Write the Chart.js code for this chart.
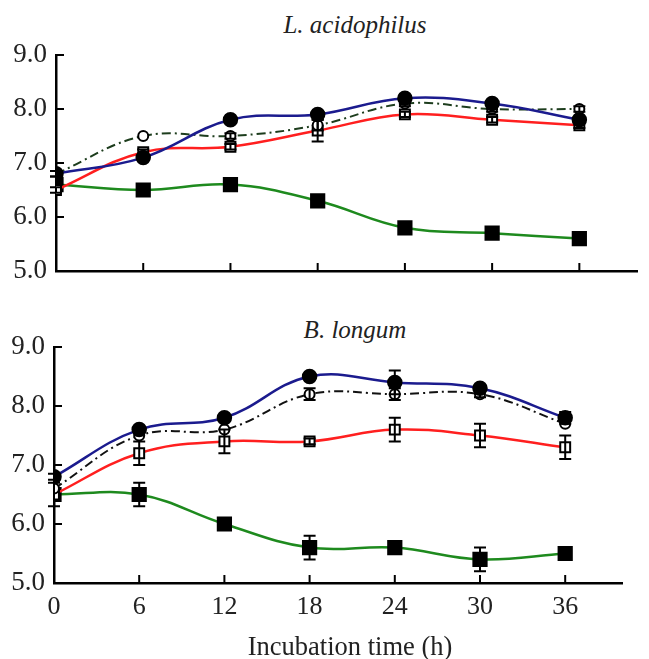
<!DOCTYPE html>
<html>
<head>
<meta charset="utf-8">
<script src="https://cdn.jsdelivr.net/npm/chart.js@4/dist/chart.umd.min.js"></script>
<style>
  body { margin: 0; background: #fff; }
  #wrap { position: relative; width: 649px; height: 659px; }
  canvas { position: absolute; left: 0; }
  .ttl { position: absolute; font-family: 'Liberation Serif', serif; font-style: italic;
         font-size: 25px; color: #222; width: 300px; text-align: center; line-height: 30px; }
  .xt { position: absolute; font-family: 'Liberation Serif', serif; font-size: 26.5px;
        color: #222; width: 300px; text-align: center; line-height: 30px; }
</style>
</head>
<body>
<div id="wrap">
  <div class="ttl" style="left:205px; top:10px;">L. acidophilus</div>
  <canvas id="top" width="649" height="300" style="top:0"></canvas>
  <div class="ttl" style="left:205px; top:315px;">B. longum</div>
  <canvas id="bottom" width="649" height="359" style="top:300px"></canvas>
  <div class="xt" style="left:200px; top:631px;">Incubation time (h)</div>
</div>
<script>
// incubation time (h) and pH axis ticks
const hours = [0, 6, 12, 18, 24, 30, 36];
const yTicks = [5, 6, 7, 8, 9];

// L. acidophilus
const laBlue  = [6.8, 7.1, 7.8, 7.9, 8.2, 8.1, 7.8];
const laBlack = [6.8, 7.5, 7.5, 7.7, 8.1, 8.0, 8.0];
const laRed   = [6.5, 7.2, 7.3, 7.6, 7.9, 7.8, 7.7];
const laGreen = [6.6, 6.5, 6.6, 6.3, 5.8, 5.7, 5.6];
const laBlueErr  = [0.05, 0.05, 0, 0.05, 0.05, 0.05, 0];
const laBlackErr = [0.05, 0, 0.05, 0.1, 0.05, 0.05, 0.05];
const laRedErr   = [0.05, 0.05, 0.05, 0.2, 0.05, 0.05, 0.05];
const laGreenErr = [0, 0, 0, 0, 0, 0, 0];

// B. longum
const blBlue  = [6.8, 7.6, 7.8, 8.5, 8.4, 8.3, 7.8];
const blBlack = [6.6, 7.5, 7.6, 8.2, 8.2, 8.2, 7.7];
const blRed   = [6.5, 7.2, 7.4, 7.4, 7.6, 7.5, 7.3];
const blGreen = [6.5, 6.5, 6.0, 5.6, 5.6, 5.4, 5.5];
const blBlueErr  = [0.05, 0.05, 0.05, 0.05, 0.2, 0.05, 0.1];
const blBlackErr = [0, 0, 0, 0.1, 0.1, 0.05, 0];
const blRedErr   = [0, 0.2, 0.2, 0.05, 0.2, 0.2, 0.2];
const blGreenErr = [0.2, 0.2, 0, 0.2, 0, 0.2, 0];

const FONT = "'Liberation Serif', 'Times New Roman', serif";

const xy = vals => hours.map((h, i) => ({ x: h, y: vals[i] }));

// error bars + inward tick marks, positions come from the chart scales
const extras = {
  id: 'extras',
  afterDatasetsDraw(chart) {
    const ctx = chart.ctx, xs = chart.scales.x, ys = chart.scales.y;
    ctx.save();
    ctx.strokeStyle = '#000';
    ctx.lineWidth = 2;
    chart.data.datasets.forEach(ds => {
      if (!ds.errors) return;
      ds.data.forEach((p, i) => {
        const e = ds.errors[i];
        if (!e) return;
        const px = xs.getPixelForValue(p.x);
        const y1 = ys.getPixelForValue(p.y + e), y2 = ys.getPixelForValue(p.y - e);
        ctx.beginPath();
        ctx.moveTo(px, y1); ctx.lineTo(px, y2);
        ctx.moveTo(px - 6, y1); ctx.lineTo(px + 6, y1);
        ctx.moveTo(px - 6, y2); ctx.lineTo(px + 6, y2);
        ctx.stroke();
      });
    });
    ctx.restore();
  },
  afterDraw(chart) {
    const ctx = chart.ctx, xs = chart.scales.x, ys = chart.scales.y;
    const a = chart.chartArea;
    ctx.save();
    ctx.strokeStyle = '#000';
    ctx.lineWidth = 2;
    ctx.beginPath();
    hours.forEach(h => {
      const px = xs.getPixelForValue(h);
      ctx.moveTo(px, a.bottom); ctx.lineTo(px, a.bottom - 8);
    });
    yTicks.forEach(v => {
      const py = ys.getPixelForValue(v);
      ctx.moveTo(a.left, py); ctx.lineTo(a.left + 8, py);
    });
    ctx.stroke();
    ctx.restore();
  }
};

function makePanel(id, blue, black, red, green, errs, opts) {
  return new Chart(document.getElementById(id), {
    type: 'line',
    data: {
      datasets: [
        {
          label: 'Filled circle', data: xy(blue), errors: errs[0],
          borderColor: '#1b1b8e', borderWidth: 2.5, tension: 0.4,
          pointStyle: 'circle', pointRadius: 6.5,
          pointBackgroundColor: '#000', pointBorderColor: '#000'
        },
        {
          label: 'Open circle', data: xy(black), errors: errs[1],
          borderColor: opts.dashColor, borderWidth: 2, tension: 0.4,
          borderDash: [9, 4, 2, 4],
          pointStyle: 'circle', pointRadius: 5, pointBorderWidth: 2,
          pointBackgroundColor: '#fff', pointBorderColor: '#000'
        },
        {
          label: 'Open square', data: xy(red), errors: errs[2],
          borderColor: '#ff1f1f', borderWidth: 2.5, tension: 0.4,
          pointStyle: 'rect', pointRadius: 7, pointBorderWidth: 2,
          pointBackgroundColor: '#fff', pointBorderColor: '#000'
        },
        {
          label: 'Filled square', data: xy(green), errors: errs[3],
          borderColor: '#1e8a1e', borderWidth: 2.5, tension: 0.4,
          pointStyle: 'rect', pointRadius: 9,
          pointBackgroundColor: '#000', pointBorderColor: '#000'
        }
      ]
    },
    options: {
      responsive: false,
      animation: false,
      layout: { padding: { top: opts.padTop, right: opts.padRight, left: 0, bottom: 0 } },
      plugins: { legend: { display: false }, tooltip: { enabled: false } },
      scales: {
        x: {
          type: 'linear', min: 0, max: 40,
          afterBuildTicks: s => { s.ticks = hours.map(v => ({ value: v })); },
          afterFit: s => { s.height = opts.xHeight; },
          grid: { display: false, drawTicks: false },
          border: { display: true, color: '#000', width: 2.5 },
          ticks: { display: opts.xLabels, padding: 9, color: '#222',
                   font: { family: FONT, size: 26 } }
        },
        y: {
          min: 5, max: 9,
          afterBuildTicks: s => { s.ticks = yTicks.map(v => ({ value: v })); },
          afterFit: s => { s.width = opts.yWidth; },
          grid: { display: false, drawTicks: false },
          border: { display: true, color: '#000', width: 2.5 },
          ticks: { padding: 9, color: '#222', font: { family: FONT, size: 27 },
                   callback: v => v.toFixed(1) }
        }
      }
    },
    plugins: [extras]
  });
}

makePanel('top', laBlue, laBlack, laRed, laGreen,
  [laBlueErr, laBlackErr, laRedErr, laGreenErr],
  { padTop: 55, padRight: 1, xHeight: 29, yWidth: 56, xLabels: false, dashColor: '#1d3d1d' });

makePanel('bottom', blBlue, blBlack, blRed, blGreen,
  [blBlueErr, blBlackErr, blRedErr, blGreenErr],
  { padTop: 47, padRight: 27, xHeight: 76, yWidth: 54, xLabels: true, dashColor: '#111' });
</script>
</body>
</html>
